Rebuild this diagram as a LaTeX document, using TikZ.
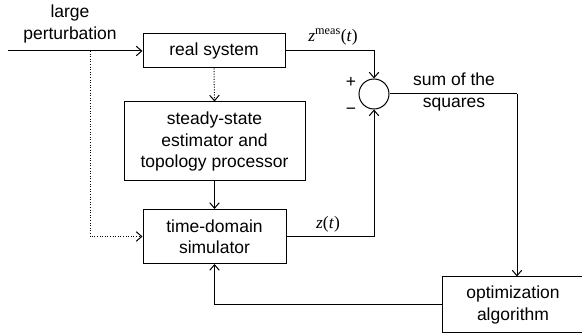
\documentclass[tikz,border=0pt]{standalone}
\usepackage{fontspec}
\setmainfont{Liberation Sans}
\newfontfamily\mathserif{Liberation Serif}
\usetikzlibrary{arrows.meta}
\begin{document}
\begin{tikzpicture}[x=1pt,y=-1pt,
  txt/.style={font=\fontsize{17.5}{21.5}\selectfont},
  blk/.style={draw,line width=1pt,inner sep=0pt,align=center,txt},
  lbl/.style={inner sep=0pt,align=center,txt},
  mlbl/.style={inner sep=0pt,font=\fontsize{17.5}{21.5}\selectfont\mathserif},
  wire/.style={line width=1pt},
  arr/.style={wire,-{Straight Barb[length=5.5pt,width=9.5pt]}},
  dotarr/.style={arr,dash pattern=on 1pt off 1.6pt}]
\useasboundingbox (0,0) rectangle (582,334);

% blocks
\node[blk,minimum width=142pt,minimum height=34pt] (rs) at (214,51) {real system};
\node[blk,minimum width=181pt,minimum height=79pt] (se) at (214.5,141.5)
  {steady-state\\estimator and\\topology processor};
\node[blk,minimum width=143pt,minimum height=54pt] (ts) at (214.5,236.5)
  {time-domain\\simulator};
\node[blk,minimum width=142pt,minimum height=56pt] (oa) at (513,305)
  {optimization\\algorithm};
\node[draw,line width=1pt,circle,minimum size=30pt,inner sep=0pt] (sum) at (374,94) {};

% labels
\node[lbl,anchor=south] (lp) at (70,43) {large\\perturbation};
\node[lbl] (pl) at (351,82) {+};
\node[lbl] (mi) at (351,111) {−};
\node[lbl] (sq) at (454,92) {sum of the\\squares};
\node[mlbl] (zm) at (333,37) {\itshape z\/\upshape\textsuperscript{meas}(\itshape t\/\upshape)};
\node[mlbl] (zt) at (328,224) {\itshape z\/\upshape(\itshape t\/\upshape)};

% connectors
\coordinate (in) at (8,51);
\coordinate (br) at (90,51);
\coordinate (c1) at (517,94);
\draw[arr] (in) -- (rs.west);
\draw[dotarr] (br) |- (ts.west);
\draw[dotarr] (rs.south) -- (se.north);
\draw[arr] (se.south) -- (ts.north);
\draw[arr] (rs.east) -| (sum.north);
\draw[arr] (ts.east) -| (sum.south);
\draw[wire] (sum.east) -- (c1);
\draw[arr] (c1) -- (c1 |- oa.north);
\draw[arr] (oa.west) -| (ts.south);
\end{tikzpicture}
\end{document}
